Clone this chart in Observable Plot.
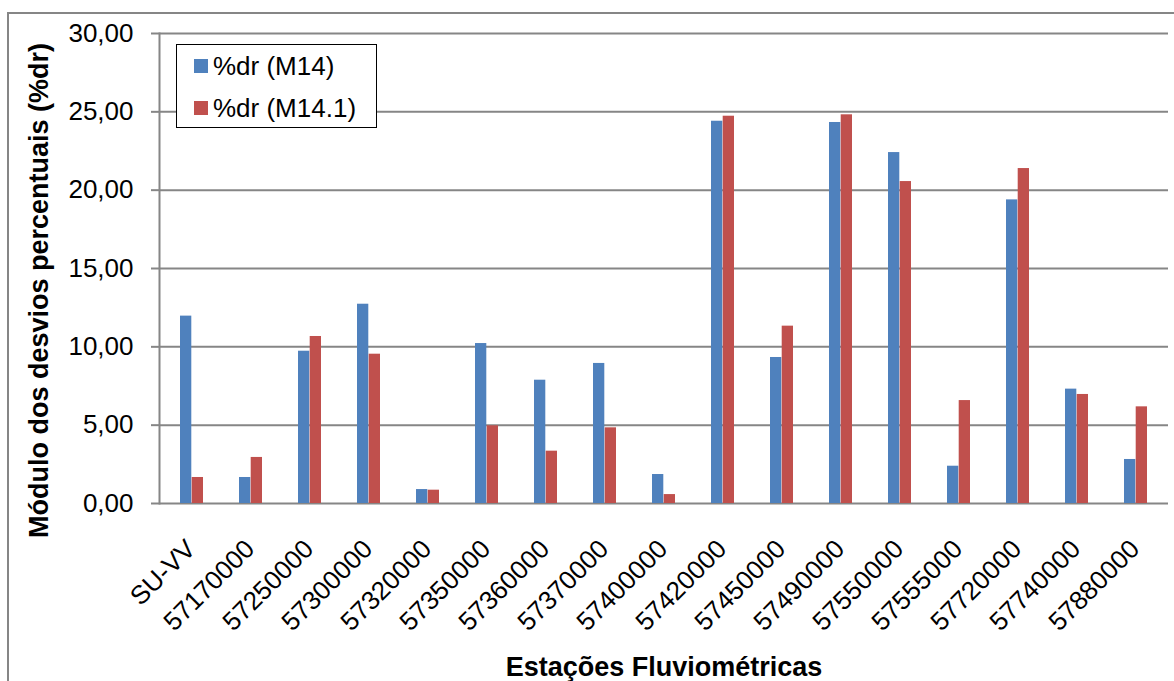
<!DOCTYPE html>
<html>
<head>
<meta charset="utf-8">
<script src="https://cdn.jsdelivr.net/npm/d3@7"></script>
<script src="https://cdn.jsdelivr.net/npm/@observablehq/plot@0.6"></script>
<style>
  html, body { margin: 0; padding: 0; background: #fff; }
  body { width: 1174px; height: 681px; overflow: hidden; position: relative; font-family: "Liberation Sans", Arial, sans-serif; }
  #outer { position: absolute; left: 7px; top: 12px; width: 1300px; height: 800px; border: 2px solid #868686; box-sizing: border-box; }
  #chart { position: absolute; left: 0; top: 0; }
  #legend { position: absolute; left: 176px; top: 44px; width: 201px; height: 84px; border: 1.5px solid #000; background: #fff; box-sizing: border-box; }
  .item { position: absolute; left: 17px; font-size: 26px; color: #000; white-space: nowrap; line-height: 1; }
  .sw { position: absolute; width: 14px; height: 14px; }
</style>
</head>
<body>
<div id="outer"></div>
<div id="chart"></div>
<div id="legend"></div>
<script>
// ---- data ----
const stations = ["SU-VV","57170000","57250000","57300000","57320000","57350000","57360000","57370000","57400000","57420000","57450000","57490000","57550000","57555000","57720000","57740000","57880000"];
const seriesNames = ["%dr (M14)", "%dr (M14.1)"];
const m14  = [11.96, 1.66, 9.72, 12.72, 0.89, 10.21, 7.87, 8.94, 1.85, 24.40, 9.32, 24.32, 22.40, 2.38, 19.38, 7.30, 2.81];
const m141 = [1.66, 2.94, 10.66, 9.53, 0.85, 4.96, 3.34, 4.83, 0.57, 24.72, 11.32, 24.81, 20.55, 6.57, 21.38, 6.96, 6.17];
const yTicks = [0, 5, 10, 15, 20, 25, 30];
const yTitle = "Módulo dos desvios percentuais (%dr)";
const xTitle = "Estações Fluviométricas";
const colors = ["#4F81BD", "#C0504D"];

const rowsA = stations.map((s, i) => ({station: s, series: seriesNames[0], value: m14[i]}));
const rowsB = stations.map((s, i) => ({station: s, series: seriesNames[1], value: m141[i]}));

const fmt = d => d.toFixed(2).replace(".", ",");
const font = '"Liberation Sans", Arial, sans-serif';

const chart = Plot.plot({
  width: 1174,
  height: 681,
  marginLeft: 159,
  marginRight: 6,
  marginTop: 33,
  marginBottom: 178,
  style: {fontFamily: font, color: "#000", background: "transparent", overflow: "visible"},
  x: {type: "band", domain: stations, padding: 0, axis: null},
  y: {domain: [0, 30], axis: null},
  marks: [
    Plot.ruleY(yTicks, {stroke: "#868686", strokeWidth: 2}),
    Plot.barY(rowsA, {x: "station", y: "value", fill: colors[0], insetLeft: 18, insetRight: 29.7}),
    Plot.barY(rowsB, {x: "station", y: "value", fill: colors[1], insetLeft: 29.7, insetRight: 18}),
    Plot.axisY({ticks: yTicks, tickFormat: fmt, tickSize: 8, tickPadding: 18, fontSize: 26, stroke: "#868686", strokeWidth: 2, fill: "#000", label: null}),
    Plot.frame({anchor: "left", stroke: "#868686", strokeWidth: 2}),
    Plot.text(stations, {x: d => d, y: 0, text: d => d, rotate: -45, textAnchor: "end", lineAnchor: "bottom", dx: 5, dy: 47, fontSize: 26, fill: "#000"}),
    Plot.text([yTitle], {frameAnchor: "left", text: d => d, rotate: -90, lineAnchor: "bottom", textAnchor: "middle", dx: -112, dy: 22, fontSize: 27, fontWeight: "bold", fill: "#000"}),
    Plot.text([xTitle], {frameAnchor: "bottom", text: d => d, lineAnchor: "bottom", textAnchor: "middle", dy: 172, fontSize: 27, fontWeight: "bold", fill: "#000"})
  ]
});
document.getElementById("chart").appendChild(chart);

// legend
const legend = document.getElementById("legend");
seriesNames.forEach((name, i) => {
  const sw = document.createElement("div");
  sw.className = "sw";
  sw.style.left = "17px";
  sw.style.top = (14 + i * 42) + "px";
  sw.style.background = colors[i];
  legend.appendChild(sw);
  const t = document.createElement("div");
  t.className = "item";
  t.style.left = "36px";
  t.style.top = (8 + i * 42) + "px";
  t.textContent = name;
  legend.appendChild(t);
});
</script>
</body>
</html>
